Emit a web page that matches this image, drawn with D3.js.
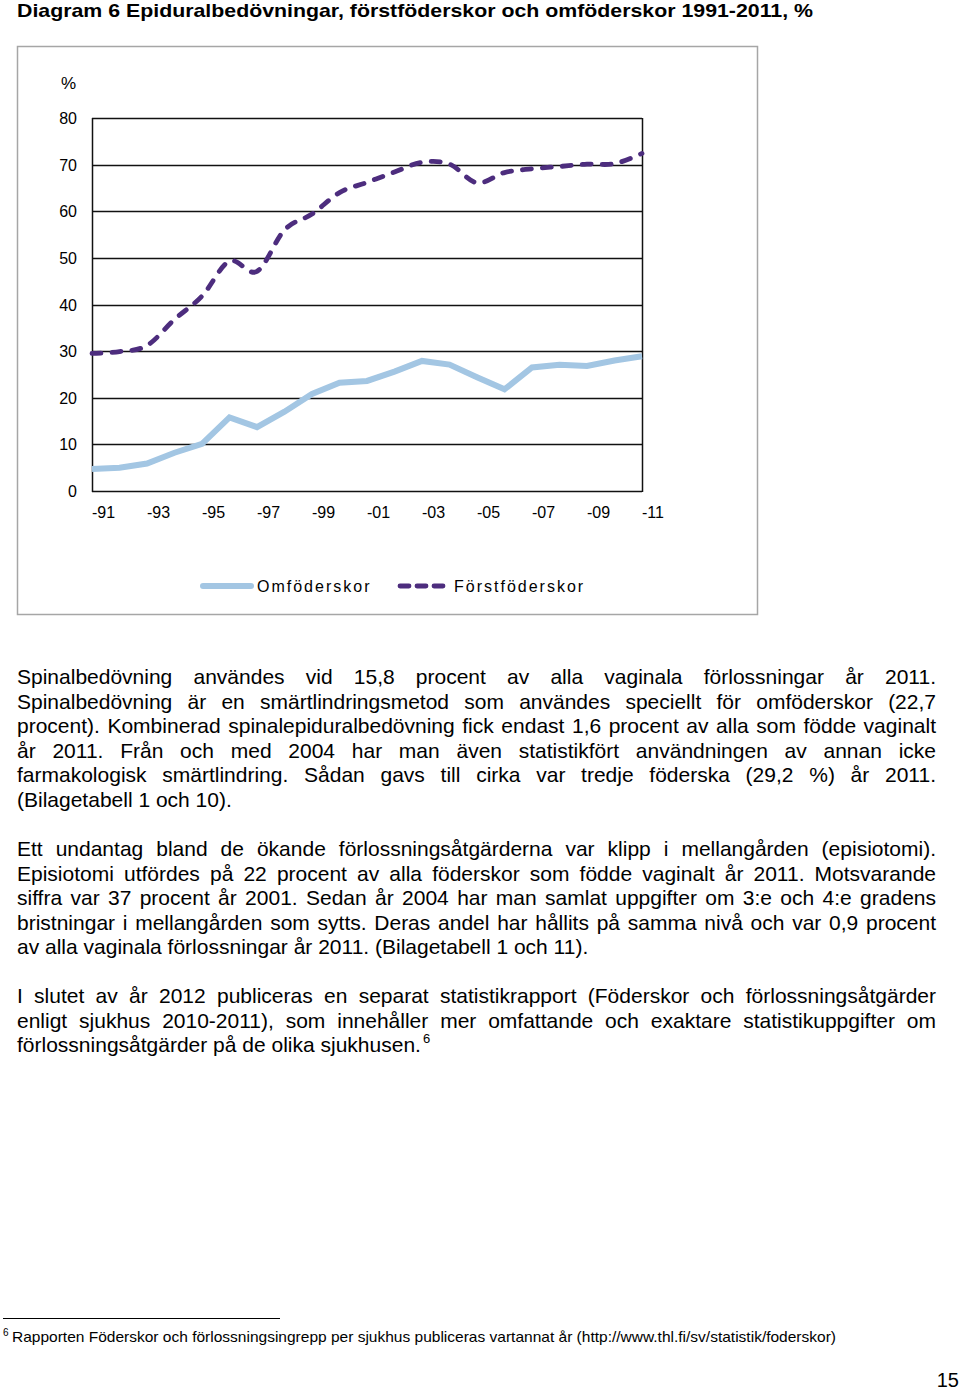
<!DOCTYPE html>
<html>
<head>
<meta charset="utf-8">
<script src="https://cdn.jsdelivr.net/npm/d3@7"></script>
<style>
body { margin: 0; background: #fff; }
svg { display: block; font-family: "Liberation Sans", Arial, sans-serif; }
</style>
</head>
<body>
<svg id="page" width="960" height="1392"></svg>
<script>
// chart data
const years = [1991, 1992, 1993, 1994, 1995, 1996, 1997, 1998, 1999, 2000, 2001,
               2002, 2003, 2004, 2005, 2006, 2007, 2008, 2009, 2010, 2011];
const omfoderskor = [4.7, 5.0, 5.9, 8.2, 10.1, 15.8, 13.7, 17.0, 20.8, 23.2, 23.6,
                     25.6, 27.9, 27.1, 24.4, 21.8, 26.5, 27.1, 26.8, 28.0, 28.9];
const forstfoderskor = [29.5, 29.9, 31.2, 36.8, 41.8, 49.3, 47.1, 56.0, 59.4, 64.0, 66.2,
                        68.4, 70.5, 70.1, 66.1, 68.3, 69.1, 69.6, 70.1, 70.2, 72.4];
const xTickYears = [1991, 1993, 1995, 1997, 1999, 2001, 2003, 2005, 2007, 2009, 2011];
const xTickLabels = ["-91", "-93", "-95", "-97", "-99", "-01", "-03", "-05", "-07", "-09", "-11"];
const yTicks = [0, 10, 20, 30, 40, 50, 60, 70, 80];
const seriesNames = ["Omföderskor", "Förstföderskor"];

const title = "Diagram 6 Epiduralbedövningar, förstföderskor och omföderskor 1991-2011, %";

const paragraphs = [
  ["Spinalbedövning användes vid 15,8 procent av alla vaginala förlossningar år 2011.",
   "Spinalbedövning är en smärtlindringsmetod som användes speciellt för omföderskor (22,7",
   "procent). Kombinerad spinalepiduralbedövning fick endast 1,6 procent av alla som födde vaginalt",
   "år 2011. Från och med 2004 har man även statistikfört användningen av annan icke",
   "farmakologisk smärtlindring. Sådan gavs till cirka var tredje föderska (29,2 %) år 2011.",
   "(Bilagetabell 1 och 10)."],
  ["Ett undantag bland de ökande förlossningsåtgärderna var klipp i mellangården (episiotomi).",
   "Episiotomi utfördes på 22 procent av alla föderskor som födde vaginalt år 2011. Motsvarande",
   "siffra var 37 procent år 2001. Sedan år 2004 har man samlat uppgifter om 3:e och 4:e gradens",
   "bristningar i mellangården som sytts. Deras andel har hållits på samma nivå och var 0,9 procent",
   "av alla vaginala förlossningar år 2011. (Bilagetabell 1 och 11)."],
  ["I slutet av år 2012 publiceras en separat statistikrapport (Föderskor och förlossningsåtgärder",
   "enligt sjukhus 2010-2011), som innehåller mer omfattande och exaktare statistikuppgifter om",
   "förlossningsåtgärder på de olika sjukhusen."]
];
const footnote = "Rapporten Föderskor och förlossningsingrepp per sjukhus publiceras vartannat år (http://www.thl.fi/sv/statistik/foderskor)";

const page = d3.select("#page");
const blue = "#a3c6e3";
const purple = "#4d2d7e";

// title
page.append("text")
    .attr("x", 17).attr("y", 17)
    .attr("font-size", 18.5).attr("font-weight", "bold")
    .attr("textLength", 796).attr("lengthAdjust", "spacingAndGlyphs")
    .text(title);

// chart frame
page.append("rect")
    .attr("x", 17.5).attr("y", 46.5)
    .attr("width", 740).attr("height", 568)
    .attr("fill", "#fff")
    .attr("stroke", "#a6a6a6")
    .attr("stroke-width", 1.5);

const x = d3.scaleLinear().domain([1991, 2011]).range([92, 642]);
const y = d3.scaleLinear().domain([0, 80]).range([491, 118]);

const chart = page.append("g");

// gridlines
chart.append("g")
    .selectAll("line")
    .data(yTicks)
    .enter().append("line")
    .attr("x1", x(1991)).attr("x2", x(2011))
    .attr("y1", d => Math.round(y(d)) + 0.5)
    .attr("y2", d => Math.round(y(d)) + 0.5)
    .attr("stroke", "#111")
    .attr("stroke-width", 1.4);

// left and right border of plot area
[1991, 2011].forEach(yr => {
    chart.append("line")
        .attr("x1", Math.round(x(yr)) + 0.5).attr("x2", Math.round(x(yr)) + 0.5)
        .attr("y1", y(80)).attr("y2", y(0) + 1)
        .attr("stroke", "#111")
        .attr("stroke-width", 1.5);
});

// y labels
chart.append("g")
    .selectAll("text")
    .data(yTicks)
    .enter().append("text")
    .attr("x", 77)
    .attr("y", d => y(d) + 6)
    .attr("text-anchor", "end")
    .attr("font-size", 16)
    .text(d => d);

chart.append("text")
    .attr("x", 76).attr("y", 89)
    .attr("text-anchor", "end")
    .attr("font-size", 17)
    .text("%");

// x labels
chart.append("g")
    .selectAll("text")
    .data(xTickYears)
    .enter().append("text")
    .attr("x", d => x(d))
    .attr("y", 518)
    .attr("font-size", 16)
    .text((d, i) => xTickLabels[i]);

// lines
const blueLine = d3.line()
    .x((d, i) => x(years[i]))
    .y(d => y(d));

const purpleLine = d3.line()
    .x((d, i) => x(years[i]))
    .y(d => y(d))
    .curve(d3.curveCardinal.tension(0));

chart.append("path")
    .datum(omfoderskor)
    .attr("d", blueLine)
    .attr("fill", "none")
    .attr("stroke", blue)
    .attr("stroke-width", 6);

chart.append("path")
    .datum(forstfoderskor)
    .attr("d", purpleLine)
    .attr("fill", "none")
    .attr("stroke", purple)
    .attr("stroke-width", 4.8)
    .attr("stroke-linecap", "round")
    .attr("stroke-dasharray", "9,11");

// legend
const legend = page.append("g");
legend.append("line")
    .attr("x1", 203).attr("x2", 251).attr("y1", 586).attr("y2", 586)
    .attr("stroke", blue).attr("stroke-width", 6).attr("stroke-linecap", "round");
legend.append("line")
    .attr("x1", 400).attr("x2", 443).attr("y1", 586).attr("y2", 586)
    .attr("stroke", purple).attr("stroke-width", 4.8).attr("stroke-linecap", "round")
    .attr("stroke-dasharray", "9,8");
legend.selectAll("text.leg")
    .data(seriesNames)
    .enter().append("text")
    .attr("class", "leg")
    .attr("x", (d, i) => i === 0 ? 257 : 454)
    .attr("y", 592)
    .attr("font-size", 16)
    .attr("letter-spacing", 2)
    .text(d => d);

// body text, each full line justified to the column width
const left = 17, colWidth = 919, lineStep = 24.5;
const paraTops = [684, 856, 1003];

paragraphs.forEach((lines, p) => {
    lines.forEach((line, i) => {
        const t = page.append("text")
            .attr("x", left)
            .attr("y", paraTops[p] + i * lineStep)
            .attr("font-size", 21)
            .text(line);
        if (i < lines.length - 1) {
            const natural = t.node().getComputedTextLength();
            const gaps = line.split(" ").length - 1;
            t.style("word-spacing", ((colWidth - natural) / gaps) + "px");
        }
    });
});

// superscript after last paragraph
const lastLine = page.selectAll("text").filter(function() {
    return d3.select(this).text().startsWith("förlossningsåtgärder på");
});
const endX = left + lastLine.node().getComputedTextLength();
page.append("text")
    .attr("x", endX + 2).attr("y", 1043)
    .attr("font-size", 13)
    .text("6");

// footnote
page.append("line")
    .attr("x1", 3).attr("x2", 280).attr("y1", 1318.5).attr("y2", 1318.5)
    .attr("stroke", "#000").attr("stroke-width", 1.2);
page.append("text")
    .attr("x", 3).attr("y", 1336)
    .attr("font-size", 10)
    .text("6");
page.append("text")
    .attr("x", 12).attr("y", 1342)
    .attr("font-size", 15)
    .attr("textLength", 824).attr("lengthAdjust", "spacingAndGlyphs")
    .text(footnote);

// page number
page.append("text")
    .attr("x", 959).attr("y", 1387)
    .attr("text-anchor", "end")
    .attr("font-size", 20)
    .text("15");
</script>
</body>
</html>
